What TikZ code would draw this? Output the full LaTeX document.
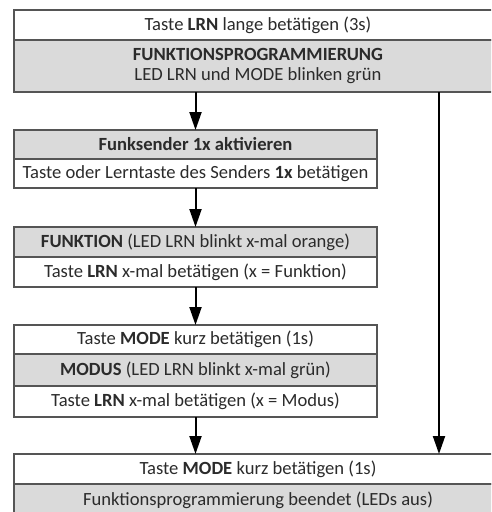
\documentclass[tikz,border=0pt]{standalone}
\usepackage{fontspec}
\setmainfont{Carlito}
\usepackage{tikz}
\usetikzlibrary{arrows.meta,positioning}

\definecolor{rimgray}{HTML}{555555}
\definecolor{cellgray}{HTML}{DADADA}
\definecolor{inkgray}{HTML}{2B2B2B}

\tikzset{
    cell/.style={draw=rimgray, line width=1.1pt, inner sep=0pt, outer sep=0pt,
        minimum height=30pt, align=center, text=inkgray,
        font=\fontsize{18.6}{20.5}\selectfont},
    widecell/.style={cell, minimum width=488pt},
    smallcell/.style={cell, minimum width=363pt},
    graycell/.style={fill=cellgray},
    flow/.style={-{Triangle[width=12pt,length=18pt]}, line width=2pt, black}
}

\begin{document}
\begin{tikzpicture}[x=1pt,y=1pt]
    \path[use as bounding box, clip] (0,0) rectangle (491,-512);
    % Start
    \node[widecell, anchor=north west]  (n1) at (14,-10) {Taste \textbf{LRN} lange betätigen (3s)};
    \node[widecell, graycell, minimum height=52pt] (n2) [below=0pt of n1]
        {\textbf{FUNKTIONSPROGRAMMIERUNG}\\LED LRN und MODE blinken grün};
    % Funksender
    \node[smallcell, graycell, minimum height=29pt] (f1) [below=38pt of n2.south west, anchor=north west] {\textbf{Funksender 1x aktivieren}};
    \node[smallcell, minimum height=29pt] (f2) [below=0pt of f1] {Taste oder Lerntaste des Senders \textbf{1x} betätigen};
    % Funktion
    \node[smallcell, graycell] (g1) [below=39pt of f2] {\textbf{FUNKTION} (LED LRN blinkt x-mal orange)};
    \node[smallcell] (g2) [below=0pt of g1] {Taste \textbf{LRN} x-mal betätigen (x = Funktion)};
    % Modus
    \node[smallcell, minimum height=29pt] (h1) [below=38pt of g2] {Taste \textbf{MODE} kurz betätigen (1s)};
    \node[smallcell, graycell, minimum height=32pt] (h2) [below=0pt of h1] {\textbf{MODUS} (LED LRN blinkt x-mal grün)};
    \node[smallcell, minimum height=31pt] (h3) [below=0pt of h2] {Taste \textbf{LRN} x-mal betätigen (x = Modus)};
    % Ende
    \node[widecell] (e1) [below=37pt of h3.south west, anchor=north west] {Taste \textbf{MODE} kurz betätigen (1s)};
    \node[widecell, graycell, minimum height=32pt] (e2) [below=0pt of e1] {Funktionsprogrammierung beendet (LEDs aus)};

    \coordinate (skip) at ([xshift=-63pt]n2.south east);
    \draw[flow] (n2.south -| f1.north) -- (f1.north);
    \draw[flow] (f2) -- (g1);
    \draw[flow] (g2) -- (h1);
    \draw[flow] (h3.south) -- (h3.south |- e1.north);
    \draw[flow] (skip) -- (skip |- e1.north);
\end{tikzpicture}
\end{document}
